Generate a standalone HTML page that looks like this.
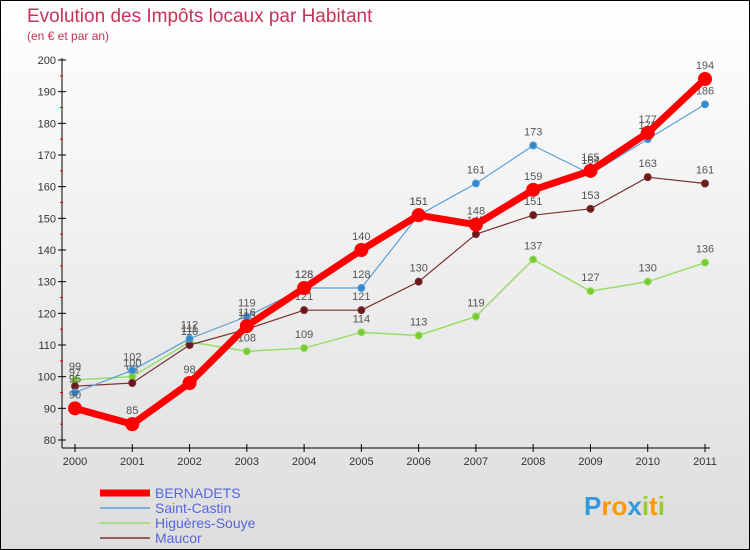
<!DOCTYPE html>
<html><head><meta charset="utf-8"><style>
body{margin:0}
#c{width:750px;height:550px;position:relative;box-sizing:border-box;border:1px solid #000;background:linear-gradient(#fff,#ddd);font-family:"Liberation Sans",sans-serif;overflow:hidden}
</style></head><body>
<div id="c">
<svg id="s" width="750" height="550" style="position:absolute;left:-1px;top:-1px"></svg>
</div>
<script>
const years=["2000","2001","2002","2003","2004","2005","2006","2007","2008","2009","2010","2011"];
const yTicks=[80,90,100,110,120,130,140,150,160,170,180,190,200];
const bernadets=[90,85,98,116,128,140,151,148,159,165,177,194];
const saintCastin=[95,102,112,119,128,128,151,161,173,164,175,186];
const higueres=[99,100,111,108,109,114,113,119,137,127,130,136];
const maucor=[97,98,110,115,121,121,130,145,151,153,163,161];
const seriesNames=["BERNADETS","Saint-Castin","Higuères-Souye","Maucor"];
const ns="http://www.w3.org/2000/svg",svg=document.getElementById('s');
const xS=i=>75+i*(630/11), yS=v=>440-(v-80)*(380/120);
function el(t,a,p){const e=document.createElementNS(ns,t);for(const k in a)e.setAttribute(k,a[k]);(p||svg).appendChild(e);return e;}
let t=el('text',{x:27,y:22,fill:'#c8325a','font-size':19});t.textContent='Evolution des Impôts locaux par Habitant';

t=el('text',{x:27,y:40,fill:'#c8325a','font-size':12});t.textContent='(en € et par an)';

let ax=el('line',{x1:62,y1:58,x2:62,y2:448,stroke:'#000'});

yTicks.forEach(v=>{el('line',{x1:58,y1:yS(v),x2:66,y2:yS(v),stroke:'#000'});
 if(v<200)el('line',{x1:60,y1:yS(v+5),x2:63,y2:yS(v+5),stroke:'#e00'});
 const tx=el('text',{x:56,y:yS(v)+4,'text-anchor':'end','font-size':11,fill:'#333'});tx.textContent=v;
 });
el('line',{x1:62,y1:448,x2:710,y2:448,stroke:'#000'});
years.forEach((y,i)=>{el('line',{x1:xS(i),y1:444,x2:xS(i),y2:452,stroke:'#000'});
 const tx=el('text',{x:xS(i),y:465,'text-anchor':'middle','font-size':11,fill:'#333'});tx.textContent=y;
 });
function draw(data,color,w,r,fill,name){
 const g=el('g',{});
 el('polyline',{points:data.map((v,i)=>xS(i)+','+yS(v)).join(' '),fill:'none',stroke:color,'stroke-width':w,'stroke-linejoin':'round'},g);
 data.forEach((v,i)=>{const c=el('circle',{cx:xS(i),cy:yS(v),r:r,fill:fill,stroke:color,'stroke-width':1},g);
  
  const tx=el('text',{x:xS(i),y:yS(v)-10,'text-anchor':'middle','font-size':11,fill:'#555'},g);tx.textContent=v;});
}
draw(higueres,'#99dd66',1.5,3.5,'#77cc33','series-higueres');
draw(maucor,'#7a3030',1.2,3.5,'#6a1a1a','series-maucor');
draw(saintCastin,'#5aa0d8',1.2,3.5,'#3388cc','series-saint-castin');
draw(bernadets,'#ff0000',7,6.5,'#ff0000','series-bernadets');
const cols=['#ff0000','#5aa0d8','#99dd66','#7a3030'],ws=[7,1.5,1.5,1.5];
seriesNames.forEach((n,i)=>{const g=el('g',{});
 const y=493+i*15;el('line',{x1:100,y1:y,x2:150,y2:y,stroke:cols[i],'stroke-width':ws[i]},g);
 const tx=el('text',{x:155,y:y+5,'font-size':14,fill:'#5566dd'},g);tx.textContent=n;});
const lg=el('text',{x:584,y:515,'font-size':26,'font-weight':'bold'});
[['P','#3399dd'],['ro','#ff9900'],['x','#3399dd'],['i','#99cc33'],['t','#ff9900'],['i','#99cc33']].forEach(([s,c])=>{const ts=el('tspan',{fill:c},lg);ts.textContent=s;});
</script>
</body></html>
